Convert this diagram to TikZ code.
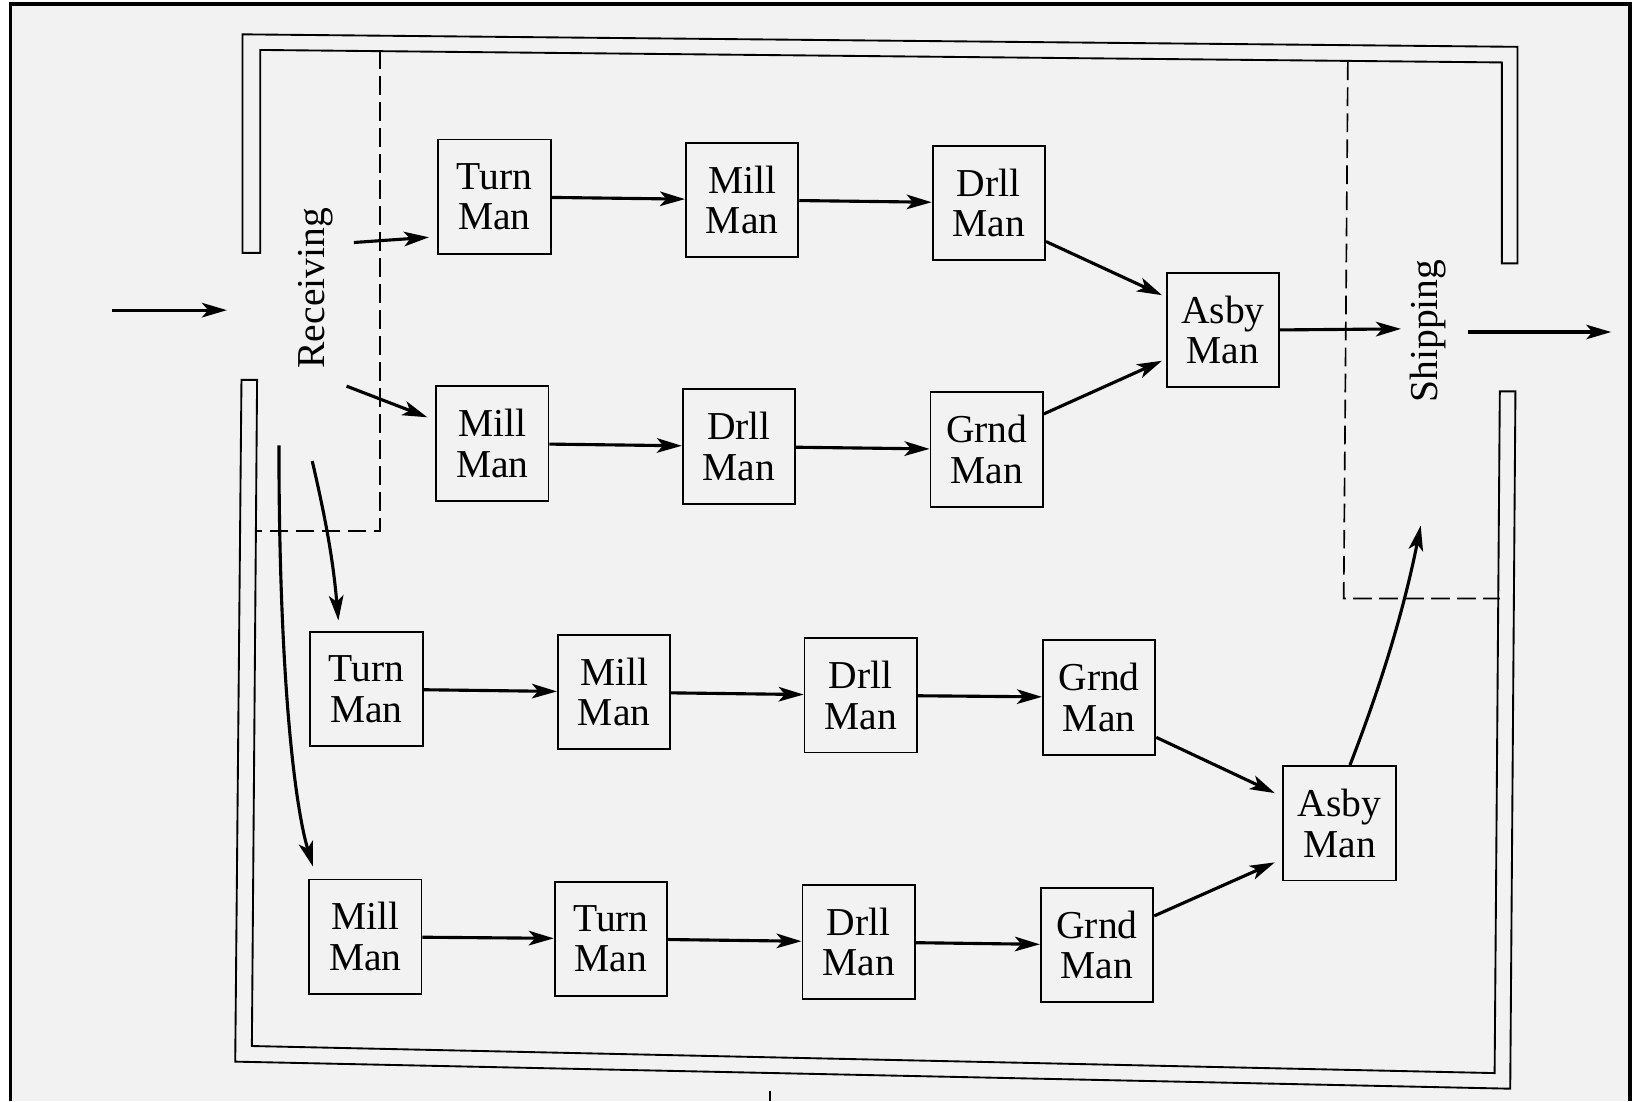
\documentclass[tikz,border=0pt]{standalone}
\usepackage{fontspec}
\setmainfont{Liberation Serif}
\usetikzlibrary{arrows.meta,positioning}
\definecolor{paper}{HTML}{F2F2F2}

\begin{document}
\begin{tikzpicture}[x=0.5pt,y=-0.5pt,>={Stealth[length=12pt,width=7pt,inset=3pt]},
  station/.style={draw,line width=0.9pt,minimum width=54pt,minimum height=55pt,
    inner sep=0pt,align=center,font=\fontsize{19}{19.5}\selectfont},
  zone/.style={font=\fontsize{19}{20}\selectfont,rotate=90},
  flow/.style={->,line width=1.5pt},
  wall/.style={line width=0.9pt,line join=miter},
  area/.style={line width=0.8pt,dash pattern=on 9pt off 3.5pt}]
  \useasboundingbox (0,0) rectangle (1568,1058);
  \fill[white] (0,0) rectangle (1568,1058);
  \fill[paper] (10,4) rectangle (1566,1058);
  \draw[line width=1.6pt] (10,1058) -- (10,4) -- (1566,4) -- (1566,1058);

  % walls of the plant
  \draw[wall] (233,243) -- (233,33) -- (1458,45) -- (1458,253) -- (1443,253)
    -- (1443,60) -- (250,48) -- (250,243) -- cycle;
  \draw[wall] (232,365) -- (226,1020) -- (1451,1046) -- (1456,376) -- (1441,376)
    -- (1436,1031) -- (242,1005) -- (247,365) -- cycle;
  \draw[wall] (740,1048) -- (740,1058);

  % receiving and shipping areas
  \draw[area] (365,48) -- (365,510) -- (247,510);
  \draw[area] (1295,59) -- (1291,575) -- (1441,575);
  \node[zone] (recv) at (303,277) {Receiving};
  \node[zone] (ship) at (1372,318) {Shipping};

  % stations
  \node[station] (turnA) at (475,189) {Turn\\Man};
  \node[station] (millA) at (713,192) {Mill\\Man};
  \node[station] (drllA) at (950,195) {Drll\\Man};
  \node[station] (millB) at (473,426) {Mill\\Man};
  \node[station] (drllB) at (710,429) {Drll\\Man};
  \node[station] (grndB) at (948,432) {Grnd\\Man};
  \node[station] (asbyA) at (1175,317) {Asby\\Man};
  \node[station] (turnC) at (352,662) {Turn\\Man};
  \node[station] (millC) at (590,665) {Mill\\Man};
  \node[station] (drllC) at (827,668) {Drll\\Man};
  \node[station] (grndC) at (1056,670) {Grnd\\Man};
  \node[station] (millD) at (351,900) {Mill\\Man};
  \node[station] (turnD) at (587,902) {Turn\\Man};
  \node[station] (drllD) at (825,905) {Drll\\Man};
  \node[station] (grndD) at (1054,908) {Grnd\\Man};
  \node[station] (asbyB) at (1287,791) {Asby\\Man};

  % free ends
  \coordinate (inTail) at (108,298);
  \coordinate (inHead) at (218,298);
  \coordinate (outTail) at (1410,319);
  \coordinate (outHead) at (1548,319);
  \coordinate (recvA) at (340,233);
  \coordinate (recvB) at (333,371);
  \coordinate (recvC) at (300,443);
  \coordinate (recvD) at (268,428);
  \coordinate (shipA) at (1346,316);
  \coordinate (shipB) at (1365,505);

  % material flow
  \draw[flow] (inTail) -- (inHead);
  \draw[flow] (outTail) -- (outHead);
  \draw[flow,shorten >=4pt] (recvA) -- (turnA.-145);
  \draw[flow,shorten >=4pt] (recvB) -- (millB.158);
  \draw[flow,shorten >=5pt] (recvC) to[bend left=4] ([xshift=-13pt]turnC.north);
  \draw[flow,shorten >=6pt] (recvD) .. controls (268,640) and (282,770) .. ([xshift=4pt]millD.north west);
  \draw[flow] (turnA) -- (millA);
  \draw[flow] (millA) -- (drllA);
  \draw[flow] (millB) -- (drllB);
  \draw[flow] (drllB) -- (grndB);
  \draw[flow,shorten >=2pt] (drllA.-34) -- (asbyA.150);
  \draw[flow,shorten >=2pt] (grndB.32) -- (asbyA.207);
  \draw[flow] (asbyA.east) -- (shipA);
  \draw[flow] (turnC) -- (millC);
  \draw[flow] (millC) -- (drllC);
  \draw[flow] (drllC) -- (grndC);
  \draw[flow] (millD) -- (turnD);
  \draw[flow] (turnD) -- (drllD);
  \draw[flow] (drllD) -- (grndD);
  \draw[flow,shorten >=4pt] (grndC.-35) -- (asbyB.155);
  \draw[flow,shorten >=4pt] (grndD.27) -- (asbyB.-148);
  \draw[flow] ([xshift=5pt]asbyB.north) .. controls (1330,650) and (1350,580) .. (shipB);
\end{tikzpicture}
\end{document}
